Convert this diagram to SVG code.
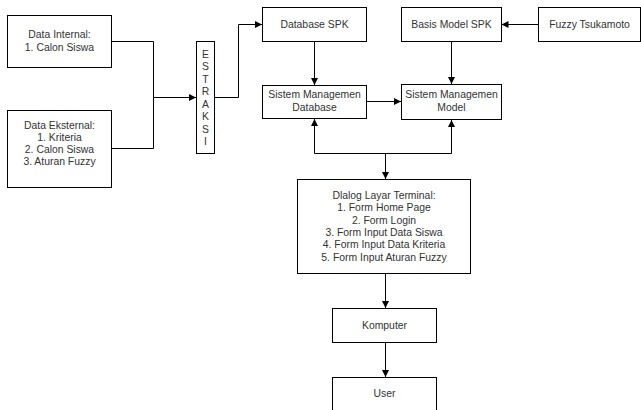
<svg xmlns="http://www.w3.org/2000/svg" width="641" height="410" viewBox="0 0 641 410">
<style>
.box{fill:#fff;stroke:#000;stroke-width:1}
.t{font-family:"Liberation Sans",Arial,sans-serif;font-size:10.4px;fill:#333;text-anchor:middle}
.c{fill:none;stroke:#000;stroke-width:1}
</style>
<defs>
<marker id="ah" markerUnits="userSpaceOnUse" markerWidth="8" markerHeight="8" refX="7" refY="3.5" orient="auto-start-reverse">
<path d="M0,0 L7,3.5 L0,7 Z" fill="#000"/>
</marker>
</defs>
<rect width="641" height="410" fill="#fff"/>
<g id="connectors">
<path class="c" d="M111.5,41.5 H153.5 V97.5 H196" marker-end="url(#ah)"/>
<path class="c" d="M111.5,148.5 H153.5 V97.5"/>
<path class="c" d="M214.5,97.5 H238.5 V24.5 H262" marker-end="url(#ah)"/>
<path class="c" d="M314.5,41.5 V85" marker-end="url(#ah)"/>
<path class="c" d="M366.5,101.5 H401" marker-end="url(#ah)"/>
<path class="c" d="M538.5,24.5 H501.5" marker-end="url(#ah)"/>
<path class="c" d="M451.5,41.5 V84" marker-end="url(#ah)"/>
<path class="c" d="M314.5,119 V153.5 H451.5 V120" marker-start="url(#ah)" marker-end="url(#ah)"/>
<path class="c" d="M385.5,153.5 V179" marker-end="url(#ah)"/>
<path class="c" d="M385.5,273.5 V308" marker-end="url(#ah)"/>
<path class="c" d="M385.5,342.5 V377" marker-end="url(#ah)"/>
</g>
<g id="data-internal">
<rect class="box" x="7.5" y="15.5" width="104" height="52"/>
<text class="t" x="59.5" y="38">Data Internal:</text>
<text class="t" x="59.5" y="50.5">1. Calon Siswa</text>
</g>
<g id="data-eksternal">
<rect class="box" x="7.5" y="110.5" width="104" height="77"/>
<text class="t" x="59.5" y="128.5">Data Eksternal:</text>
<text class="t" x="59.5" y="140.5">1. Kriteria</text>
<text class="t" x="59.5" y="152.5">2. Calon Siswa</text>
<text class="t" x="59.5" y="164.5">3. Aturan Fuzzy</text>
</g>
<g id="estraksi">
<rect class="box" x="196.5" y="41.5" width="18" height="112"/>
<text class="t" x="205.5" y="57.5">E</text>
<text class="t" x="205.5" y="70">S</text>
<text class="t" x="205.5" y="82.5">T</text>
<text class="t" x="205.5" y="95">R</text>
<text class="t" x="205.5" y="107.5">A</text>
<text class="t" x="205.5" y="120">K</text>
<text class="t" x="205.5" y="132.5">S</text>
<text class="t" x="205.5" y="145">I</text>
</g>
<g id="database-spk">
<rect class="box" x="262.5" y="7.5" width="104" height="34"/>
<text class="t" x="314.5" y="28">Database SPK</text>
</g>
<g id="basis-model-spk">
<rect class="box" x="401.5" y="7.5" width="100" height="34"/>
<text class="t" x="451.5" y="28">Basis Model SPK</text>
</g>
<g id="fuzzy-tsukamoto">
<rect class="box" x="538.5" y="7.5" width="102" height="34"/>
<text class="t" x="589.5" y="28">Fuzzy Tsukamoto</text>
</g>
<g id="smd">
<rect class="box" x="262.5" y="85.5" width="104" height="33"/>
<text class="t" x="314.5" y="98">Sistem Managemen</text>
<text class="t" x="314.5" y="110.5">Database</text>
</g>
<g id="smm">
<rect class="box" x="401.5" y="84.5" width="100" height="35"/>
<text class="t" x="451.5" y="98">Sistem Managemen</text>
<text class="t" x="451.5" y="110.5">Model</text>
</g>
<g id="dialog">
<rect class="box" x="297.5" y="179.5" width="173" height="94"/>
<text class="t" x="384" y="199">Dlalog Layar Terminal:</text>
<text class="t" x="384" y="211.3">1. Form Home Page</text>
<text class="t" x="384" y="223.6">2. Form Login</text>
<text class="t" x="384" y="235.9">3. Form Input Data Siswa</text>
<text class="t" x="384" y="248.2">4. Form Input Data Kriteria</text>
<text class="t" x="384" y="260.5">5. Form Input Aturan Fuzzy</text>
</g>
<g id="komputer">
<rect class="box" x="332.5" y="308.5" width="104" height="34"/>
<text class="t" x="384.5" y="329">Komputer</text>
</g>
<g id="user">
<rect class="box" x="332.5" y="377.5" width="104" height="40"/>
<text class="t" x="384.5" y="397">User</text>
</g>
</svg>
